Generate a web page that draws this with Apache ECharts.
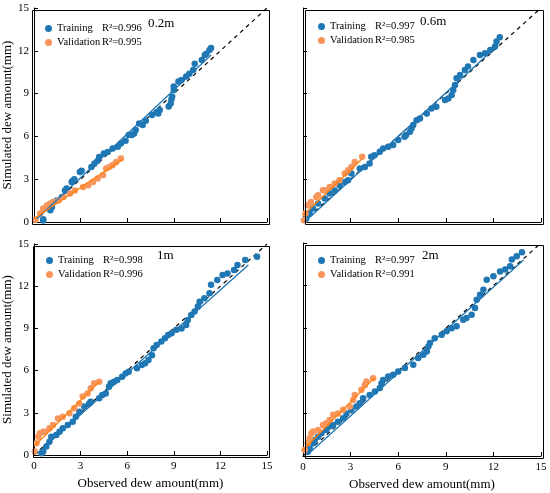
<!DOCTYPE html>
<html><head><meta charset="utf-8">
<script src="https://cdn.jsdelivr.net/npm/echarts@6/dist/echarts.min.js"></script>
<style>html,body{margin:0;padding:0;background:#fff}#c{width:550px;height:493px}</style>
</head><body><div id="c"></div>
<script>
var ticks = [0, 3, 6, 9, 12, 15];
var panelLabels = ['0.2m', '0.6m', '1m', '2m'];
var trainR2 = ['0.996', '0.997', '0.998', '0.997'];
var validR2 = ['0.995', '0.985', '0.996', '0.991'];

var train02 = [[0.6,0.1],[0.6,0.2],[1.06,0.82],[1.16,1.05],[1.27,1.4],[1.48,1.5],[1.8,1.75],[2.0,2.2],[2.1,2.35],[2.43,2.8],[2.5,2.9],[2.6,3.0],[2.96,3.5],[3.07,3.6],[3.7,3.85],[3.9,4.1],[4.1,4.3],[4.2,4.55],[4.5,4.8],[4.75,4.9],[5.07,5.15],[5.4,5.27],[5.6,5.5],[5.9,5.7],[6.1,6.1],[6.3,6.1],[6.45,6.2],[6.55,6.45],[6.77,6.9],[7.0,6.8],[7.2,7.1],[7.6,7.5],[7.9,7.7],[8.0,7.6],[8.1,7.85],[8.67,8.1],[8.8,8.3],[8.85,8.6],[8.9,8.8],[9.0,9.25],[9.0,9.5],[9.3,9.85],[9.5,9.95],[9.8,10.2],[10.0,10.4],[10.25,10.65],[10.35,11.1],[10.8,11.35],[11.0,11.7],[11.1,11.8],[11.3,12.05],[11.4,12.2]];
var valid02 = [[0.1,0.16],[0.4,0.6],[0.6,0.95],[0.85,1.17],[1.06,1.3],[1.27,1.4],[1.6,1.52],[1.9,1.75],[2.33,2.0],[2.64,2.2],[3.17,2.45],[3.5,2.58],[3.8,2.8],[4.1,3.05],[4.45,3.3],[4.65,3.75],[4.86,3.86],[5.07,4.0],[5.3,4.2],[5.6,4.45]];
var train06 = [[0.2,0.23],[0.42,0.6],[0.63,0.94],[0.95,1.3],[1.37,1.64],[1.68,2.0],[2.0,2.2],[2.3,2.58],[2.63,2.8],[2.84,2.93],[3.05,3.4],[3.58,3.75],[3.9,3.86],[4.2,4.1],[4.3,4.57],[4.5,4.68],[4.84,4.92],[5.05,5.15],[5.37,5.27],[5.68,5.39],[6.0,5.74],[6.4,5.97],[6.5,6.1],[6.74,6.32],[6.84,6.56],[6.95,6.8],[7.16,7.14],[7.37,7.26],[7.8,7.6],[8.1,7.96],[8.4,8.08],[8.95,8.55],[9.16,8.66],[9.37,8.9],[9.47,9.25],[9.58,9.6],[9.68,10.07],[9.9,10.3],[10.2,10.65],[10.4,10.9],[10.74,11.36],[11.15,11.7],[11.47,11.83],[11.8,12.06],[12.1,12.3],[12.2,12.65],[12.4,12.95]];
var valid06 = [[0.06,0.12],[0.15,0.59],[0.3,1.17],[0.5,1.4],[0.84,1.75],[0.95,1.87],[1.26,2.22],[1.37,2.22],[1.68,2.46],[2.0,2.7],[2.3,2.93],[2.63,3.4],[2.84,3.63],[3.05,3.86],[3.26,4.2],[3.73,4.57]];
var train1 = [[0.5,0.12],[0.6,0.24],[0.8,0.6],[1.0,0.95],[1.12,1.3],[1.44,1.42],[1.65,1.66],[1.86,1.9],[2.18,2.13],[2.5,2.37],[2.7,2.72],[2.92,3.08],[3.24,3.44],[3.56,3.67],[3.66,3.79],[4.2,4.03],[4.4,4.27],[4.62,4.38],[4.83,4.86],[4.94,5.1],[5.15,5.21],[5.36,5.33],[5.68,5.57],[5.9,5.8],[6.1,5.92],[6.63,6.16],[6.95,6.4],[7.16,6.52],[7.37,6.75],[7.6,7.1],[7.7,7.58],[7.9,7.82],[8.2,8.06],[8.43,8.3],[8.64,8.53],[8.86,8.65],[9.17,8.9],[9.5,9.0],[9.8,9.24],[9.9,9.6],[10.13,9.95],[10.34,10.2],[10.55,10.55],[10.66,10.9],[10.97,11.14],[11.3,11.5],[11.4,12.1],[11.8,12.44],[12.14,12.8],[12.46,12.9],[12.88,13.15],[13.1,13.5],[13.6,13.86],[14.36,14.1]];
var valid1 = [[0.06,0.24],[0.17,0.83],[0.28,1.3],[0.38,1.54],[0.6,1.66],[0.7,1.66],[1.0,1.9],[1.23,2.13],[1.55,2.6],[1.86,2.72],[2.29,2.96],[2.6,3.32],[2.92,3.67],[3.14,4.15],[3.45,4.38],[3.66,4.74],[3.88,5.1],[4.2,5.21]];
var train2 = [[0.3,0.3],[0.42,0.54],[0.63,0.9],[0.74,1.13],[0.95,1.36],[1.16,1.6],[1.47,1.83],[1.68,2.07],[1.9,2.19],[2.2,2.42],[2.53,2.66],[2.74,3.0],[3.05,3.25],[3.37,3.48],[3.58,3.72],[3.79,4.07],[4.2,4.3],[4.53,4.54],[4.84,4.78],[4.95,5.13],[5.05,5.36],[5.37,5.6],[5.68,5.72],[6.0,5.95],[6.42,6.19],[6.95,6.42],[7.26,6.9],[7.58,7.13],[7.8,7.36],[7.9,7.72],[8.0,7.95],[8.3,8.3],[8.74,8.54],[9.05,8.78],[9.37,9.0],[9.68,9.13],[10.1,9.6],[10.3,9.72],[10.63,9.95],[10.84,10.42],[10.95,11.0],[11.16,11.36],[11.37,11.7],[11.58,12.42],[12.0,12.66],[12.42,13.0],[12.74,13.13],[13.05,13.36],[13.16,13.84],[13.47,14.07],[13.8,14.35]];
var valid2 = [[0.1,0.42],[0.3,0.9],[0.42,1.25],[0.53,1.6],[0.63,1.72],[0.95,1.83],[1.26,2.19],[1.47,2.3],[1.68,2.54],[1.9,2.9],[2.2,3.0],[2.53,3.25],[2.95,3.48],[3.16,3.95],[3.26,4.3],[3.68,4.66],[3.9,5.0],[4.0,5.25],[4.42,5.48]];

var trainFit = [[[0.2,0.23],[11.4,11.7]], [[0.1,0.0],[12.3,12.4]], [[0.2,0.1],[13.8,13.5]], [[0.3,0.1],[13.9,13.8]]];
var validFit = [[[0,0.23],[5.7,4.38]], [[0,0.45],[3.7,4.4]], [[0,0.6],[4.2,5.2]], [[0,0.42],[4.5,5.5]]];
var oneToOne = [[0,0],[15,15]];

var trainSets = [train02, train06, train1, train2];
var validSets = [valid02, valid06, valid1, valid2];

var BLUE = '#1f77b4', ORANGE_PT = '#f8955a', ORANGE_LN = '#ff7f0e';
var FONT = 'Liberation Serif';
var grids = [
  {left:30, top:8, width:237, height:214},
  {left:303, top:8, width:238, height:214},
  {left:31, top:244, width:236, height:211},
  {left:303, top:243, width:238, height:213}
];
var legendTops = [18, 16, 250, 250];
var xAxes = [], yAxes = [], series = [], legends = [], graphics = [];
grids.forEach(function(g, i){
  var showY = (i % 2 === 0), showX = (i >= 2);
  var lineStyle = {color:'#000', width:1};
  xAxes.push({gridIndex:i, type:'value', min:0, max:15, interval:3,
    axisLine:{show:true, onZero:false, lineStyle:lineStyle},
    axisTick:{show:true, inside:true, length:4, lineStyle:lineStyle},
    axisLabel:{show:showX, color:'#000', fontFamily:FONT, fontSize:11, margin:6},
    splitLine:{show:false},
    name: showX ? 'Observed dew amount(mm)' : '', nameLocation:'middle', nameGap:22,
    nameTextStyle:{color:'#000', fontFamily:FONT, fontSize:13}});
  yAxes.push({gridIndex:i, type:'value', min:0, max:15, interval:3,
    axisLine:{show:true, onZero:false, lineStyle:lineStyle},
    axisTick:{show:true, inside:true, length:4, lineStyle:lineStyle},
    axisLabel:{show:showY, color:'#000', fontFamily:FONT, fontSize:11, margin:5},
    splitLine:{show:false},
    name: showY ? 'Simulated dew amount(mm)' : '', nameLocation:'middle', nameGap:15,
    nameTextStyle:{color:'#000', fontFamily:FONT, fontSize:13}});
  graphics.push({type:'rect', left:g.left, top:g.top, silent:true, z:100,
    shape:{width:g.width, height:g.height}, style:{fill:'none', stroke:'#000', lineWidth:1}});
  series.push({type:'line', name:'1:1 '+i, xAxisIndex:i, yAxisIndex:i, data:oneToOne, showSymbol:false,
    lineStyle:{color:'#000', width:1.2, type:[4,4]}, z:1, silent:true});
  series.push({type:'scatter', name:'Training'+i, xAxisIndex:i, yAxisIndex:i, data:trainSets[i],
    symbolSize:6.5, itemStyle:{color:BLUE, opacity:1}, z:3});
  series.push({type:'scatter', name:'Validation'+i, xAxisIndex:i, yAxisIndex:i, data:validSets[i],
    symbolSize:6.5, itemStyle:{color:ORANGE_PT, opacity:1}, z:3});
  series.push({type:'line', name:'tfit'+i, xAxisIndex:i, yAxisIndex:i, data:trainFit[i], showSymbol:false,
    lineStyle:{color:BLUE, width:1.3}, z:4, silent:true});
  series.push({type:'line', name:'vfit'+i, xAxisIndex:i, yAxisIndex:i, data:validFit[i], showSymbol:false,
    lineStyle:{color:ORANGE_LN, width:1.3}, z:4, silent:true});
  (function(idx){
    legends.push({orient:'vertical', left:g.left+10, top:legendTops[idx], itemWidth:7, itemHeight:7, itemGap:3,
      icon:'circle', data:['Training'+idx, 'Validation'+idx],
      textStyle:{color:'#000', fontFamily:FONT, fontSize:10.5,
        rich:{a:{width:45, fontFamily:FONT, fontSize:10.5, color:'#000'}, b:{fontFamily:FONT, fontSize:10.5, color:'#000'}}},
      formatter:function(n){
        if(n.indexOf('Training')===0) return '{a|Training}{b|R²=' + trainR2[idx] + '}';
        return '{a|Validation}{b|R²=' + validR2[idx] + '}';
      }});
  })(i);
});
var labelPos = [[148,17],[420,15],[157,249],[422,249]];
labelPos.forEach(function(p, i){
  graphics.push({type:'text', left:p[0], top:p[1], z:101,
    style:{text:panelLabels[i], fill:'#000', font:'13px "Liberation Serif"'}});
});
var chart = echarts.init(document.getElementById('c'), null, {renderer:'canvas'});
chart.setOption({
  animation:false, backgroundColor:'#fff',
  grid:grids, xAxis:xAxes, yAxis:yAxes, series:series, legend:legends, graphic:graphics
});
</script></body></html>
